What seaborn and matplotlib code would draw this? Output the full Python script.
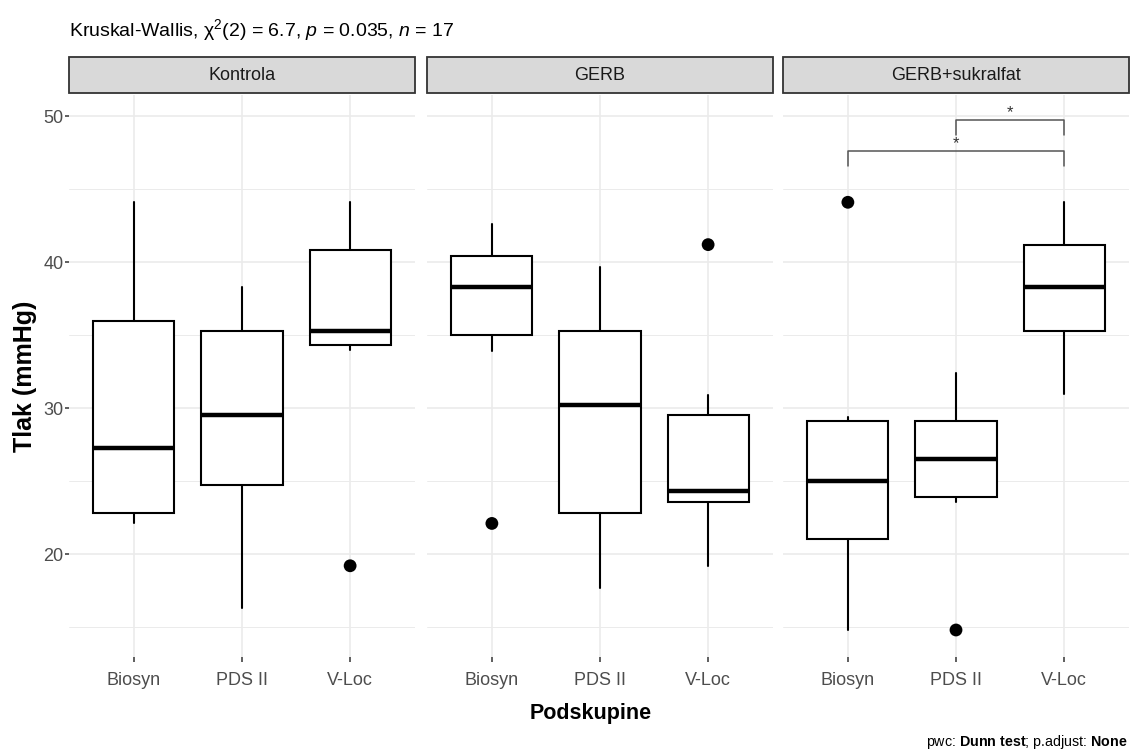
import matplotlib
matplotlib.use("Agg")
import matplotlib.pyplot as plt
from matplotlib.patches import Rectangle
import seaborn as sns

# ---- data ----
facets = ["Kontrola", "GERB", "GERB+sukralfat"]
subgroups = ["Biosyn", "PDS II", "V-Loc"]
whisker_low = [[22.1, 16.3, 34.0], [33.9, 17.7, 19.2], [14.8, 23.6, 31.0]]
q1_vals = [[22.8, 24.7, 34.3], [35.0, 22.8, 23.6], [21.0, 23.9, 35.3]]
medians = [[27.3, 29.5, 35.3], [38.3, 30.2, 24.3], [25.0, 26.5, 38.3]]
q3_vals = [[36.0, 35.3, 40.8], [40.4, 35.3, 29.5], [29.1, 29.1, 41.2]]
whisker_high = [[44.1, 38.3, 44.1], [42.6, 39.7, 30.9], [29.4, 32.4, 44.1]]
outliers = [[[], [], [19.2]], [[22.1], [], [41.2]], [[44.1], [14.8], []]]
y_ticks = [20, 30, 40, 50]
y_minor = [15, 25, 35, 45]
# significance brackets in the last facet: (from, to, y, tick_bottom, label)
brackets = [("Biosyn", "V-Loc", 47.6, 46.6, "*"), ("PDS II", "V-Loc", 49.75, 48.7, "*")]
subtitle_parts = ("Kruskal-Wallis, ", "6.7", "0.035", "17")

sns.set_theme(style="whitegrid")
plt.rcParams["font.family"] = ["Liberation Sans", "DejaVu Sans"]
plt.rcParams["mathtext.fontset"] = "custom"
plt.rcParams["mathtext.rm"] = "Liberation Sans"
plt.rcParams["mathtext.it"] = "Liberation Sans:italic"
plt.rcParams["mathtext.bf"] = "Liberation Sans:bold"

W, H = 1133, 749
fig = plt.figure(figsize=(W / 100, H / 100), dpi=100)
fig.patch.set_facecolor("white")

panel_left = [69, 427, 783]
panel_w = 346
panel_top, panel_bot = 95, 657
strip_top, strip_bot = 57, 93

grid_col = "#ebebeb"
tick_col = "#4d4d4d"

for i, facet in enumerate(facets):
    ax = fig.add_axes([panel_left[i] / W, 1 - panel_bot / H, panel_w / W, (panel_bot - panel_top) / H])
    ax.set_facecolor("white")
    positions = [1, 2, 3]
    stats = []
    for j, sg in enumerate(subgroups):
        stats.append(dict(label=sg, med=medians[i][j], q1=q1_vals[i][j], q3=q3_vals[i][j],
                          whislo=whisker_low[i][j], whishi=whisker_high[i][j], fliers=[]))
    ax.bxp(stats, positions=positions, widths=0.75, showfliers=False, showcaps=False,
           patch_artist=True,
           boxprops=dict(facecolor="white", edgecolor="black", linewidth=1.5),
           whiskerprops=dict(color="black", linewidth=1.5),
           medianprops=dict(color="black", linewidth=3.2, solid_capstyle="butt"),
           zorder=3)
    # outliers
    ox, oy = [], []
    for j in range(3):
        for v in outliers[i][j]:
            ox.append(positions[j]); oy.append(v)
    if ox:
        sns.scatterplot(x=ox, y=oy, ax=ax, color="black", s=85, edgecolor="none", zorder=4)

    ax.set_xlim(0.4, 3.6)
    ax.set_ylim(12.95, 51.45)
    ax.set_xticks(positions)
    ax.set_xticklabels(subgroups)
    ax.set_yticks(y_ticks)
    ax.set_yticks(y_minor, minor=True)
    ax.grid(False)
    ax.grid(True, which="major", axis="both", color=grid_col, linewidth=1.2, zorder=0)
    ax.grid(True, which="minor", axis="y", color=grid_col, linewidth=0.7, zorder=0)
    ax.set_axisbelow(True)
    for s in ax.spines.values():
        s.set_visible(False)
    ax.tick_params(axis="x", which="major", length=3.5, width=1.1, color="#333333",
                   labelsize=13, labelcolor=tick_col, pad=7.5, bottom=True)
    ax.tick_params(axis="y", which="minor", length=0, left=False)
    if i == 0:
        ax.tick_params(axis="y", which="major", length=3.0, width=1.1, color="#333333",
                       labelsize=13, labelcolor=tick_col, pad=1, left=True)
    else:
        ax.tick_params(axis="y", which="major", length=0, labelleft=False, left=False)
    ax.set_xlabel("")
    ax.set_ylabel("")

    # strip
    fig.patches.append(Rectangle((panel_left[i] / W, 1 - strip_bot / H), panel_w / W,
                                 (strip_bot - strip_top) / H, transform=fig.transFigure,
                                 facecolor="#d9d9d9", edgecolor="#333333", linewidth=1.3))
    fig.text((panel_left[i] + panel_w / 2) / W, 1 - (strip_top + strip_bot) / 2 / H, facet,
             ha="center", va="center", fontsize=13, color="#1a1a1a")

    if i == 2:
        pos = dict(zip(subgroups, positions))
        for a, b, yb, ytick, lab in brackets:
            xa, xb = pos[a], pos[b]
            ax.plot([xa, xa, xb, xb], [ytick, yb, yb, ytick], color="#555555", linewidth=1.1,
                    clip_on=False, zorder=5)
            ax.text((xa + xb) / 2, yb + 0.2, lab, ha="center", va="baseline", fontsize=12,
                    color="#333333", zorder=6)

# subtitle
kw, chi, pv, n = subtitle_parts
fig.text(69 / W, 1 - 36 / H,
         kw + r"$\mathrm{χ}^2$" + "(2) = " + chi + ", " + r"$\it{p}$" + " = " + pv + ", " + r"$\it{n}$" + " = " + n,
         ha="left", va="baseline", fontsize=14, color="black")

# axis titles
fig.text(25 / W, 1 - 376 / H, "Tlak (mmHg)", rotation=90, ha="center", va="center",
         fontsize=18, fontweight="bold", color="black")
fig.text(591 / W, 1 - 714 / H, "Podskupine", ha="center", va="center",
         fontsize=15.5, fontweight="bold", color="black")

# caption
fig.text(1128 / W, 1 - 746 / H, r"pwc: $\bf{Dunn\ test}$; p.adjust: $\bf{None}$",
         ha="right", va="baseline", fontsize=10.3, color="black")

fig.savefig("out.png", dpi=100, facecolor="white")
